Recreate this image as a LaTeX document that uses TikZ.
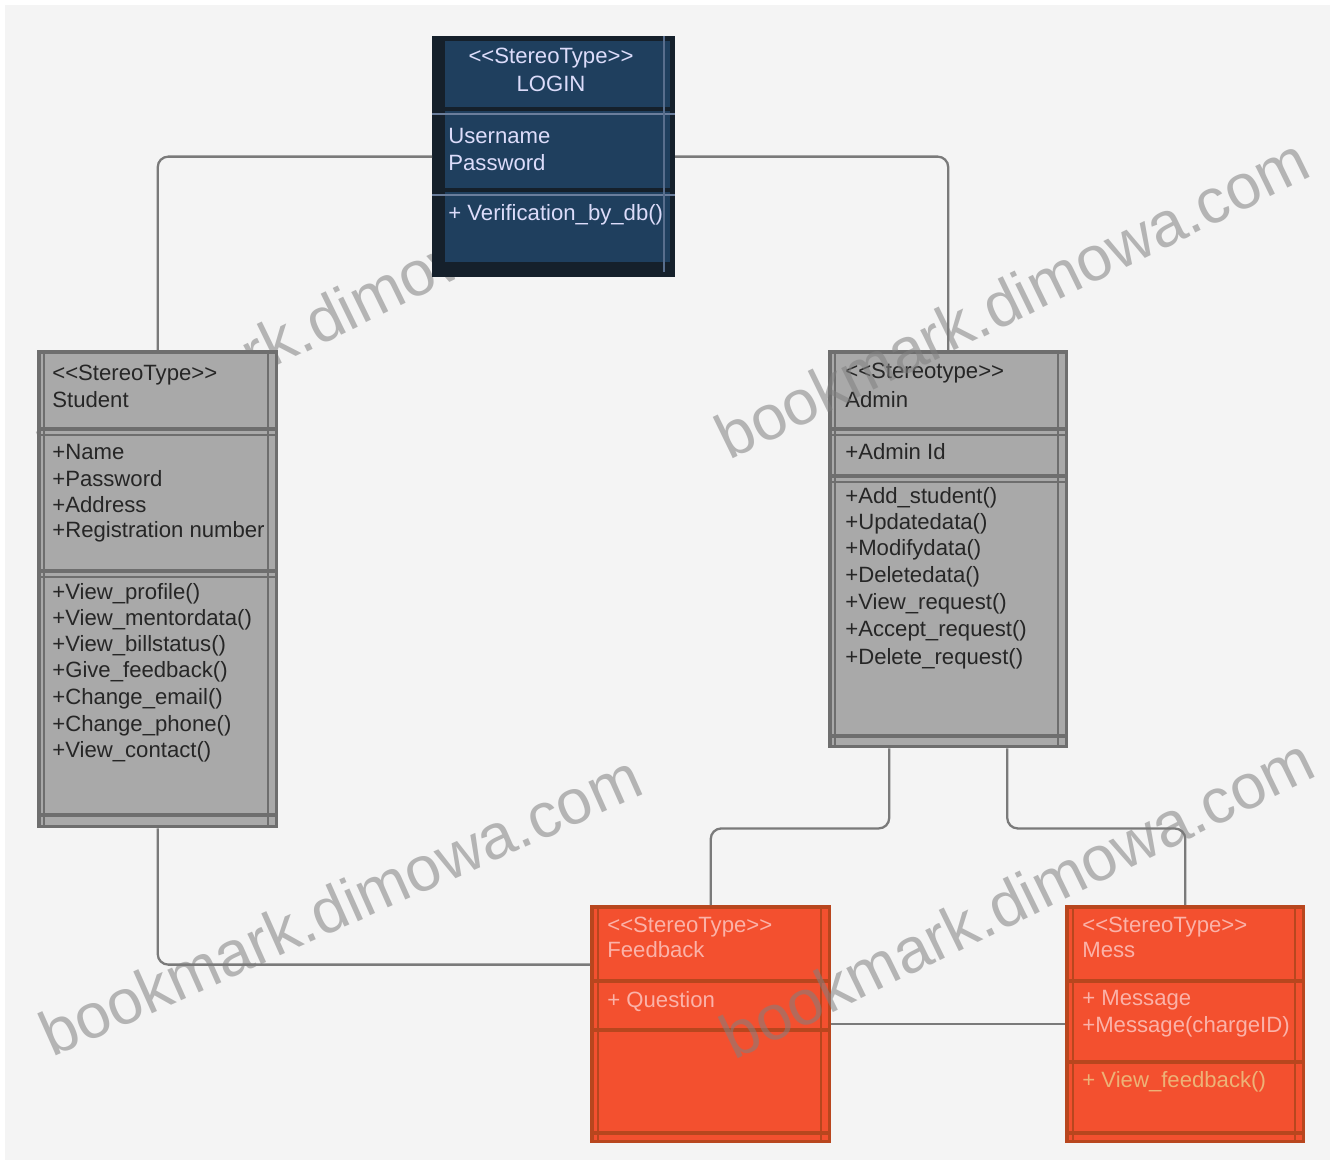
\documentclass[tikz,border=0pt]{standalone}
\usepackage{fontspec}
\setmainfont{Liberation Sans}
\usetikzlibrary{calc}
\definecolor{bgc}{HTML}{F4F4F4}
\definecolor{navy}{HTML}{1F3F5E}
\definecolor{navydark}{HTML}{15202B}
\definecolor{navytxt}{HTML}{DCDCFA}
\definecolor{grayfill}{HTML}{A9A9A9}
\definecolor{grayborder}{HTML}{6E6E6E}
\definecolor{graytxt}{HTML}{262626}
\definecolor{orfill}{HTML}{F3502F}
\definecolor{orborder}{HTML}{B8461E}
\definecolor{ortxt}{HTML}{FBB2A8}
\definecolor{ortan}{HTML}{EDB277}
\definecolor{linegray}{HTML}{7A7A7A}
\newcommand{\stt}[1]{{<}{<}#1{>}{>}}
\tikzset{
  boxnode/.style={rectangle, inner sep=0pt, anchor=north west, line width=2pt},
  txt/.style={anchor=west, inner sep=0pt},
  conn/.style={draw=linegray, line width=1.3pt, rounded corners=6pt},
  sepline/.style={line width=2.2pt},
  innerline/.style={line width=0.8pt},
  wmark/.style={font=\fontsize{36}{36}\selectfont, text=gray, opacity=0.55, inner sep=0pt},
  ltxt/.style={txt, text=navytxt},
  gtxt/.style={txt, text=graytxt},
  otxt/.style={txt, text=ortxt},
}
\begin{document}
\begin{tikzpicture}[x=0.02cm, y=-0.02cm, font=\fontsize{12.6}{15}\selectfont]
\useasboundingbox (0,0) rectangle (1335,1166);
\fill[white] (0,0) rectangle (1335,1166);
\fill[bgc] (5,5) rectangle (1330,1160);

% watermark partly hidden behind the boxes
\node[wmark, rotate=26] (w4) at (335,313) {bookmark.dimowa.com};

% ---------- Student box ----------
\node[boxnode, fill=grayfill, draw=grayborder, minimum width=4.76cm, minimum height=9.5cm] (student) at (37,350) {};
\draw[innerline, draw=grayborder] (44,350) -- (44,825) (268,350) -- (268,825);
\draw[sepline, draw=grayborder] (student.west |- 0,429) -- (student.east |- 0,429);
\draw[innerline, draw=grayborder] (student.west |- 0,435) -- (student.east |- 0,435);
\draw[sepline, draw=grayborder] (student.west |- 0,571) -- (student.east |- 0,571);
\draw[innerline, draw=grayborder] (student.west |- 0,577) -- (student.east |- 0,577);
\draw[sepline, draw=grayborder] (student.west |- 0,815) -- (student.east |- 0,815);
\node[gtxt] (s1) at (52,375) {\stt{StereoType}};
\node[gtxt] (s2) at (52,400) {Student};
\node[gtxt] (s3) at (52,452) {+Name};
\node[gtxt] (s4) at (52,479) {+Password};
\node[gtxt] (s5) at (52,505) {+Address};
\node[gtxt] (s6) at (52,532) {+Registration number};
\node[gtxt] (s7) at (52,594) {+View\_profile()};
\node[gtxt] (s8) at (52,620) {+View\_mentordata()};
\node[gtxt] (s9) at (52,646) {+View\_billstatus()};
\node[gtxt] (s10) at (52,672) {+Give\_feedback()};
\node[gtxt] (s11) at (52,699) {+Change\_email()};
\node[gtxt] (s12) at (52,726) {+Change\_phone()};
\node[gtxt] (s13) at (52,752) {+View\_contact()};

% ---------- Admin box ----------
\node[boxnode, fill=grayfill, draw=grayborder, minimum width=4.74cm, minimum height=7.9cm] (admin) at (828,350) {};
\draw[innerline, draw=grayborder] (835,350) -- (835,745) (1058,350) -- (1058,745);
\draw[sepline, draw=grayborder] (admin.west |- 0,429) -- (admin.east |- 0,429);
\draw[innerline, draw=grayborder] (admin.west |- 0,435) -- (admin.east |- 0,435);
\draw[sepline, draw=grayborder] (admin.west |- 0,476) -- (admin.east |- 0,476);
\draw[innerline, draw=grayborder] (admin.west |- 0,482) -- (admin.east |- 0,482);
\draw[sepline, draw=grayborder] (admin.west |- 0,736) -- (admin.east |- 0,736);
\node[gtxt] (a1) at (845,373) {\stt{Stereotype}};
\node[gtxt] (a2) at (845,400) {Admin};
\node[gtxt] (a3) at (845,452) {+Admin Id};
\node[gtxt] (a4) at (845,498) {+Add\_student()};
\node[gtxt] (a5) at (845,524) {+Updatedata()};
\node[gtxt] (a6) at (845,550) {+Modifydata()};
\node[gtxt] (a7) at (845,577) {+Deletedata()};
\node[gtxt] (a8) at (845,604) {+View\_request()};
\node[gtxt] (a9) at (845,631) {+Accept\_request()};
\node[gtxt] (a10) at (845,659) {+Delete\_request()};

% ---------- Feedback box ----------
\node[boxnode, fill=orfill, draw=orborder, minimum width=4.76cm, minimum height=4.7cm] (feedback) at (590,905) {};
\draw[innerline, draw=orborder] (598,905) -- (598,1140) (821,905) -- (821,1140);
\draw[sepline, draw=orborder] (feedback.west |- 0,981) -- (feedback.east |- 0,981);
\draw[sepline, draw=orborder] (feedback.west |- 0,1030) -- (feedback.east |- 0,1030);
\draw[sepline, draw=orborder] (feedback.west |- 0,1133) -- (feedback.east |- 0,1133);
\node[otxt] (f1) at (607,927) {\stt{StereoType}};
\node[otxt] (f2) at (607,950) {Feedback};
\node[otxt] (f3) at (607,1002) {+ Question};

% ---------- Mess box ----------
\node[boxnode, fill=orfill, draw=orborder, minimum width=4.74cm, minimum height=4.7cm] (mess) at (1065,905) {};
\draw[innerline, draw=orborder] (1073,905) -- (1073,1140) (1295,905) -- (1295,1140);
\draw[sepline, draw=orborder] (mess.west |- 0,981) -- (mess.east |- 0,981);
\draw[sepline, draw=orborder] (mess.west |- 0,1062) -- (mess.east |- 0,1062);
\draw[sepline, draw=orborder] (mess.west |- 0,1133) -- (mess.east |- 0,1133);
\node[otxt] (m1) at (1082,927) {\stt{StereoType}};
\node[otxt] (m2) at (1082,950) {Mess};
\node[otxt] (m3) at (1082,1000) {+ Message};
\node[otxt] (m4) at (1082,1027) {+Message(chargeID)};
\node[txt, text=ortan] (m5) at (1082,1082) {+ View\_feedback()};

% ---------- Watermarks ----------
\node[wmark, rotate=24] (w1) at (340,905) {bookmark.dimowa.com};
\node[wmark, rotate=26] (w2) at (1017,898) {bookmark.dimowa.com};
\node[wmark, rotate=26] (w3) at (1012,298) {bookmark.dimowa.com};

% ---------- LOGIN box ----------
\node[boxnode, fill=navy, draw=navydark, line width=3pt, minimum width=4.76cm, minimum height=4.72cm] (login) at (432,36) {};
\fill[navydark] (432,36) rectangle (445,272);
\fill[navydark] (432,262) rectangle (670,272);
\draw[sepline, draw=navydark] (login.west |- 0,109) -- (login.east |- 0,109);
\draw[innerline, draw=navytxt!40!navy] (login.west |- 0,114) -- (login.east |- 0,114);
\draw[sepline, draw=navydark] (login.west |- 0,190) -- (login.east |- 0,190);
\draw[innerline, draw=navytxt!40!navy] (login.west |- 0,195) -- (login.east |- 0,195);
\draw[innerline, draw=navytxt!30!navy] (664,36) -- (664,272);
\node[text=navytxt, inner sep=0pt] (l1) at (551,58) {\stt{StereoType}};
\node[text=navytxt, inner sep=0pt] (l2) at (551,84) {LOGIN};
\node[ltxt] (l3) at (448,136) {Username};
\node[ltxt] (l4) at (448,163) {Password};
\begin{scope}
\clip (445,196) rectangle (668,260);
\node[ltxt] (l5) at (448,215) {+ Verification\_by\_db()};
\end{scope}

% ---------- Connectors ----------
\draw[conn] (login.west) -| (student.north);
\draw[conn] (login.east) -| (admin.north);
\draw[conn] (student.south) |- ($(feedback.north west)!0.25!(feedback.south west)$);
\draw[conn] ($(admin.south)+(-59,0)$) -- ++(0,80) -| (feedback.north);
\draw[conn] ($(admin.south)+(59,0)$) -- ++(0,80) -| (mess.north);
\draw[conn] (feedback.east) -- (mess.west);
\end{tikzpicture}
\end{document}
